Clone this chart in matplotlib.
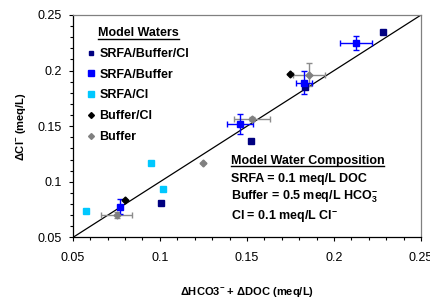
import matplotlib
matplotlib.use("Agg")
import matplotlib.pyplot as plt
from matplotlib.lines import Line2D

plt.rcParams['font.family'] = ['Liberation Sans', 'DejaVu Sans']
plt.rcParams['mathtext.fontset'] = 'custom'
plt.rcParams['mathtext.rm'] = 'Liberation Sans:bold'
plt.rcParams['mathtext.bf'] = 'Liberation Sans:bold'
plt.rcParams['mathtext.it'] = 'Liberation Sans:bold'
plt.rcParams['mathtext.default'] = 'bf'

# ---- data ----
sbc_x = [0.228, 0.1834, 0.1524, 0.1007]
sbc_y = [0.2345, 0.1856, 0.1365, 0.0808]

sb_x = [0.2127, 0.183, 0.1461, 0.0768]
sb_y = [0.2252, 0.1892, 0.1518, 0.0777]
sb_xerr = [0.009, 0.0046, 0.0075, 0.001]
sb_yerr = [0.0063, 0.0105, 0.009, 0.0066]

sc_x = [0.0948, 0.1015, 0.0575]
sc_y = [0.1167, 0.0939, 0.0741]

bc_x = [0.1748, 0.080]
bc_y = [0.1973, 0.0837]

b_x = [0.1857, 0.1528, 0.1248, 0.0753]
b_y = [0.1961, 0.1563, 0.1173, 0.0702]
b_xerr = [0.0091, 0.0105, 0.0, 0.0089]
b_yerr = [0.0104, 0.002, 0.0, 0.003]

series_labels = ['SRFA/Buffer/Cl', 'SRFA/Buffer', 'SRFA/Cl', 'Buffer/Cl', 'Buffer']
x_ticks = [0.05, 0.1, 0.15, 0.2, 0.25]
y_ticks = [0.05, 0.1, 0.15, 0.2, 0.25]

fig = plt.figure(figsize=(4.31, 2.99), dpi=100)
ax = fig.add_axes([0.169, 0.2057, 0.808, 0.7443])

# 1:1 line
ax.plot([0.05, 0.25], [0.05, 0.25], color='black', lw=0.9, zorder=1)

# error bars
ax.errorbar(b_x, b_y, xerr=b_xerr, yerr=b_yerr, fmt='none', ecolor='#8c8c8c',
            elinewidth=1.0, capsize=2.5, capthick=1.0, zorder=2)
ax.errorbar(sb_x, sb_y, xerr=sb_xerr, yerr=sb_yerr, fmt='none', ecolor='#0000ff',
            elinewidth=1.0, capsize=2.5, capthick=1.0, zorder=3)

h1, = ax.plot(sbc_x, sbc_y, ls='none', marker='s', ms=4, color='#000080', zorder=4)
h2, = ax.plot(sb_x, sb_y, ls='none', marker='s', ms=4.5, color='#0000ff', zorder=5)
h3, = ax.plot(sc_x, sc_y, ls='none', marker='s', ms=4.5, color='#00c8ff', zorder=4)
h4, = ax.plot(bc_x, bc_y, ls='none', marker='D', ms=3.5, color='black', zorder=4)
h5, = ax.plot(b_x, b_y, ls='none', marker='D', ms=3.5, color='#808080', zorder=6)

ax.set_xlim(0.05, 0.25)
ax.set_ylim(0.05, 0.25)
ax.set_xticks(x_ticks)
ax.set_yticks(y_ticks)
ax.set_xticklabels([f'{v:g}' for v in x_ticks])
ax.set_yticklabels([f'{v:g}' for v in y_ticks])
ax.set_xticks([0.05 + 0.01 * i for i in range(21)], minor=True)
ax.set_yticks([0.05 + 0.01 * i for i in range(21)], minor=True)
ax.tick_params(axis='both', which='major', direction='out', length=3.2, width=0.8,
               labelsize=9, top=False, right=False)
ax.tick_params(axis='both', which='minor', direction='out', length=2, width=0.8,
               top=False, right=False)
ax.tick_params(axis='x', which='major', pad=7)
ax.tick_params(axis='y', which='major', pad=4.8)

for s in ['left', 'bottom']:
    ax.spines[s].set_color('black')
    ax.spines[s].set_linewidth(0.9)
for s in ['top', 'right']:
    ax.spines[s].set_color('#808080')
    ax.spines[s].set_linewidth(0.9)

ax.set_xlabel(r'ΔHCO3$^{-}$ + ΔDOC (meq/L)', fontsize=8, fontweight='bold')
ax.set_ylabel(r'ΔCl$^{-}$ (meq/L)', fontsize=8, fontweight='bold')
ax.xaxis.set_label_coords(0.5, -0.2135)
ax.yaxis.set_label_coords(-0.128, 0.5)

leg = ax.legend([h1, h2, h3, h4, h5], series_labels, loc='upper left',
                bbox_to_anchor=(0.044, 0.945), frameon=False,
                prop={'weight': 'bold', 'size': 9}, title='Model Waters',
                title_fontproperties={'weight': 'bold', 'size': 9},
                handlelength=0.5, handletextpad=0.4, labelspacing=0.7,
                borderpad=0, borderaxespad=0, markerscale=0.85)

comp_lines = ['SRFA = 0.1 meq/L DOC',
              r'Buffer = 0.5 meq/L HCO$_3^{-}$',
              r'Cl = 0.1 meq/L Cl$^{-}$']
comp_title = ax.text(0.453, 0.345, 'Model Water Composition', transform=ax.transAxes,
                     fontsize=9, fontweight='bold', ha='left', va='center')
for t, yy in zip(comp_lines, [0.265, 0.182, 0.094]):
    ax.text(0.453, yy, t, transform=ax.transAxes, fontsize=9, fontweight='bold',
            ha='left', va='center')

fig.canvas.draw()
r = fig.canvas.get_renderer()
inv = fig.transFigure.inverted()
for t in [leg.get_title(), comp_title]:
    bb = t.get_window_extent(r)
    (x0, y0) = inv.transform((bb.x0, bb.y0 + 0.5))
    (x1, _) = inv.transform((bb.x1, bb.y0))
    fig.add_artist(Line2D([x0, x1], [y0, y0], color='black', lw=1.0,
                          transform=fig.transFigure))

fig.savefig('out.png', dpi=100)
